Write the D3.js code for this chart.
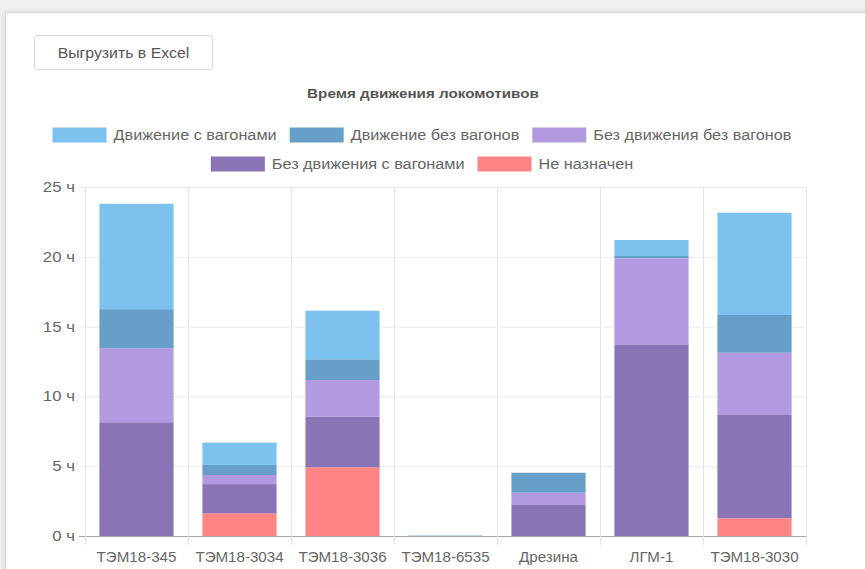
<!DOCTYPE html>
<meta charset="utf-8">
<style>
html, body {
  margin: 0;
  padding: 0;
  background: #f1f1f1;
  overflow: hidden;
  font-family: "Liberation Sans", Arial, sans-serif;
}
.card {
  position: absolute;
  left: 5px;
  top: 12px;
  width: 880px;
  height: 580px;
  background: #fff;
  border: 1px solid #d8d8d8;
  box-shadow: 0 0 5px rgba(0, 0, 0, 0.12);
}
svg {
  position: absolute;
  left: 0;
  top: 0;
}
</style>
<div class="card"></div>
<svg width="865" height="569"></svg>
<script src="https://cdn.jsdelivr.net/npm/d3@7"></script>
<script>
const categories = ['ТЭМ18-345', 'ТЭМ18-3034', 'ТЭМ18-3036', 'ТЭМ18-6535', 'Дрезина', 'ЛГМ-1', 'ТЭМ18-3030'];

// series, часы (bottom of stack first)
const notAssigned = [0, 1.62, 4.92, 0, 0, 0, 1.27];
const idleWithWagons = [8.15, 2.1, 3.63, 0, 2.22, 13.73, 7.4];
const idleNoWagons = [5.3, 0.65, 2.62, 0, 0.88, 6.16, 4.46];
const movingNoWagons = [2.8, 0.72, 1.49, 0, 1.43, 0.17, 2.7];
const movingWithWagons = [7.55, 1.6, 3.48, 0.04, 0, 1.14, 7.33];

const yTicks = [0, 5, 10, 15, 20, 25];

const series = [
  { key: 'movingWithWagons', name: 'Движение с вагонами', color: '#7dc1ee', values: movingWithWagons },
  { key: 'movingNoWagons', name: 'Движение без вагонов', color: '#679fc9', values: movingNoWagons },
  { key: 'idleNoWagons', name: 'Без движения без вагонов', color: '#b29ae0', values: idleNoWagons },
  { key: 'idleWithWagons', name: 'Без движения с вагонами', color: '#8974b6', values: idleWithWagons },
  { key: 'notAssigned', name: 'Не назначен', color: '#ff8585', values: notAssigned }
];
const stackOrder = ['notAssigned', 'idleWithWagons', 'idleNoWagons', 'movingNoWagons', 'movingWithWagons'];

const svg = d3.select('svg');
const margin = { left: 85, right: 806, top: 187, bottom: 536 };

// the screenshot text is rendered a bit wider than Liberation Sans
function stretch(sel, k) {
  sel.each(function () {
    const w = this.getComputedTextLength();
    d3.select(this).attr('textLength', w * k).attr('lengthAdjust', 'spacingAndGlyphs');
  });
}

// button
const btn = svg.append('g').attr('class', 'btn');
btn.append('rect')
  .attr('x', 34.5).attr('y', 35.5)
  .attr('width', 178).attr('height', 34)
  .attr('rx', 3)
  .attr('fill', '#fff')
  .attr('stroke', '#d9d9d9');
btn.append('text')
  .attr('x', 123.5).attr('y', 57.5)
  .attr('text-anchor', 'middle')
  .attr('fill', '#555')
  .style('font-size', '14px')
  .text('Выгрузить в Excel')
  .call(stretch, 1.13);

// title
svg.append('text')
  .attr('x', 423).attr('y', 97.5)
  .attr('text-anchor', 'middle')
  .attr('fill', '#555')
  .style('font-size', '13px')
  .style('font-weight', 'bold')
  .text('Время движения локомотивов')
  .call(stretch, 1.17);

// legend
const legendRows = [series.slice(0, 3), series.slice(3)];
const rowY = [135, 164];
legendRows.forEach((row, ri) => {
  const g = svg.append('g').attr('class', 'legend');
  const items = g.selectAll('g').data(row).enter().append('g');
  items.append('rect')
    .attr('width', 54).attr('height', 15)
    .attr('y', rowY[ri] - 7.5)
    .attr('fill', d => d.color);
  items.append('text')
    .attr('y', rowY[ri] + 5)
    .attr('fill', '#666')
    .style('font-size', '14px')
    .text(d => d.name)
    .call(stretch, 1.16);
  const widths = [];
  items.each(function () { widths.push(61 + +d3.select(this).select('text').attr('textLength')); });
  const gap = 13;
  const total = d3.sum(widths) + gap * (widths.length - 1);
  let x0 = 422 - total / 2;
  items.each(function (d, i) {
    d3.select(this).select('rect').attr('x', x0);
    d3.select(this).select('text').attr('x', x0 + 61);
    x0 += widths[i] + gap;
  });
});

// scales
const x = d3.scaleBand().domain(categories).range([margin.left, margin.right]);
const y = d3.scaleLinear().domain([0, 25]).range([margin.bottom, margin.top]);

// grid
svg.append('g').attr('class', 'grid-h')
  .selectAll('line').data(yTicks).enter().append('line')
  .attr('x1', margin.left - 6).attr('x2', margin.right)
  .attr('y1', d => y(d) + 0.5).attr('y2', d => y(d) + 0.5)
  .attr('stroke', d => d === 0 ? '#a8a8a8' : '#e9e9e9');

const bounds = categories.map(c => x(c)).concat([margin.right]);
svg.append('g').attr('class', 'grid-v')
  .selectAll('line').data(bounds).enter().append('line')
  .attr('x1', d => Math.round(d) + 0.5).attr('x2', d => Math.round(d) + 0.5)
  .attr('y1', margin.top).attr('y2', margin.bottom + 9)
  .attr('stroke', '#e6e6e6');

// stacked bars
const table = categories.map((c, i) => {
  const row = { cat: c };
  series.forEach(s => { row[s.key] = s.values[i]; });
  return row;
});
const stacked = d3.stack().keys(stackOrder)(table);
const color = new Map(series.map(s => [s.key, s.color]));
const barW = x.bandwidth() * 0.72;

svg.append('g').attr('class', 'bars')
  .selectAll('g').data(stacked).enter().append('g')
  .attr('fill', d => color.get(d.key))
  .selectAll('rect').data(d => d).enter().append('rect')
  .attr('x', d => x(d.data.cat) + (x.bandwidth() - barW) / 2)
  .attr('width', barW)
  .attr('y', d => y(d[1]))
  .attr('height', d => Math.max(0, y(d[0]) - y(d[1])));

// axes labels
svg.append('g').attr('class', 'y-labels')
  .selectAll('text').data(yTicks).enter().append('text')
  .attr('x', margin.left - 10)
  .attr('y', d => y(d) + 5)
  .attr('text-anchor', 'end')
  .attr('fill', '#666')
  .style('font-size', '14px')
  .text(d => `${d} ч`)
  .call(stretch, 1.2);

svg.append('g').attr('class', 'x-labels')
  .selectAll('text').data(categories).enter().append('text')
  .attr('x', d => x(d) + x.bandwidth() / 2)
  .attr('y', 562)
  .attr('text-anchor', 'middle')
  .attr('fill', '#666')
  .style('font-size', '14px')
  .text(d => d)
  .call(stretch, 1.08);
</script>
